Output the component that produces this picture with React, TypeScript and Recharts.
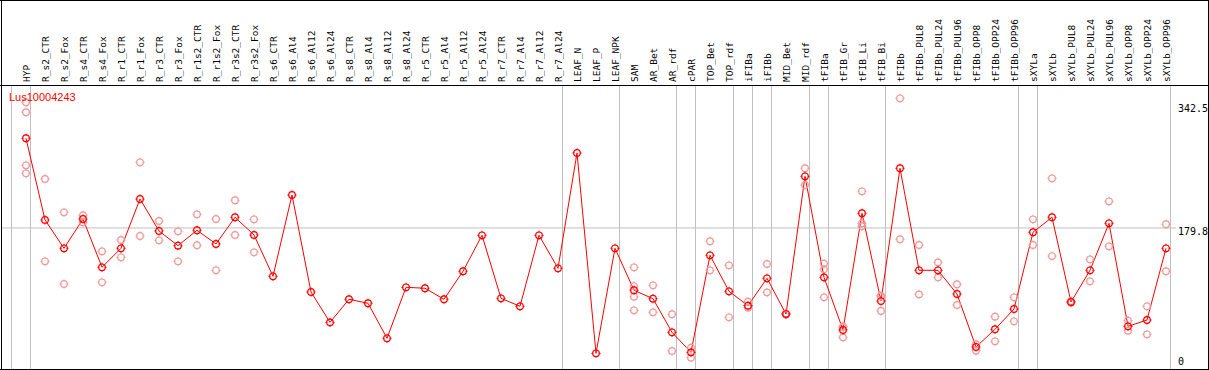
import React from "react";
import { ComposedChart, Line, Scatter, XAxis, YAxis, ReferenceLine } from "recharts";

const categories = [
  "HYP", "R_s2_CTR", "R_s2_Fox", "R_s4_CTR", "R_s4_Fox", "R_r1_CTR", "R_r1_Fox", "R_r3_CTR", "R_r3_Fox",
  "R_r1s2_CTR", "R_r1s2_Fox", "R_r3s2_CTR", "R_r3s2_Fox", "R_s6_CTR", "R_s6_Al4", "R_s6_Al12", "R_s6_Al24",
  "R_s8_CTR", "R_s8_Al4", "R_s8_Al12", "R_s8_Al24", "R_r5_CTR", "R_r5_Al4", "R_r5_Al12", "R_r5_Al24",
  "R_r7_CTR", "R_r7_Al4", "R_r7_Al12", "R_r7_Al24", "LEAF_N", "LEAF_P", "LEAF_NPK", "SAM", "AR_Bet", "AR_rdf",
  "cPAR", "TOP_Bet", "TOP_rdf", "iFIBa", "iFIBb", "MID_Bet", "MID_rdf", "tFIBa", "tFIB_Gr", "tFIB_Li", "tFIB_Bi",
  "tFIBb", "tFIBb_PUL8", "tFIBb_PUL24", "tFIBb_PUL96", "tFIBb_OPP8", "tFIBb_OPP24", "tFIBb_OPP96", "sXYLa",
  "sXYLb", "sXYLb_PUL8", "sXYLb_PUL24", "sXYLb_PUL96", "sXYLb_OPP8", "sXYLb_OPP24", "sXYLb_OPP96",
];

const meanValues = [
  292.2, 189.8, 154.3, 191.0, 130.5, 154.3, 216.1, 176.0, 157.6, 176.9, 159.7, 193.2, 171.0,
  119.2, 221.1, 99.5, 61.5, 90.4, 85.4, 41.5, 105.4, 104.2, 90.4, 125.5, 170.6, 91.6, 81.6, 170.6, 129.2,
  273.8, 22.7, 154.3, 101.7, 91.1, 49.0, 23.9, 145.5, 100.4, 82.4, 116.7, 71.9, 244.5, 117.9, 51.9, 198.2,
  88.2, 254.6, 126.7, 126.7, 97.0, 30.6, 52.8, 78.2, 174.4, 193.2, 87.0, 126.7, 185.6, 56.5, 64.4, 154.3,
];

const replicateValues: number[][] = [
  [337.3, 324.8, 258.3, 248.3],
  [241.2, 138.0],
  [199.4, 109.6],
  [195.7, 186.9],
  [150.5, 111.7],
  [164.7, 143.0],
  [262.1, 169.7],
  [188.5, 164.3],
  [175.6, 138.0],
  [196.9, 158.1],
  [191.0, 126.7],
  [214.5, 171.0],
  [190.6, 149.3],
  [], [], [], [], [], [], [], [], [], [], [], [], [], [], [], [], [], [], [],
  [130.5, 107.0, 93.6, 76.6],
  [107.9, 74.1],
  [71.6, 25.6],
  [29.7, 17.2],
  [163.1, 126.7],
  [133.0, 67.8],
  [87.4, 79.9],
  [134.6, 99.1],
  [72.6, 71.2],
  [254.6, 233.6],
  [135.0, 128.0, 92.9],
  [56.5, 55.5, 42.7],
  [225.7, 185.6, 181.9],
  [94.9, 94.0, 75.7],
  [342.3, 165.6],
  [158.4, 96.6],
  [136.7, 117.9],
  [109.2, 83.2],
  [34.0, 25.9],
  [68.6, 37.7],
  [92.9, 62.8],
  [190.6, 158.4],
  [242.0, 144.6],
  [88.0, 86.0],
  [140.5, 112.9],
  [213.2, 156.8],
  [63.6, 51.0],
  [81.6, 46.5],
  [184.4, 125.5],
];

const groupBoundaries = [-1, 0, 28, 31, 34, 35, 37, 38, 39, 41, 42, 45, 52, 53, 60];
const yTicks = [0, 179.8, 342.5];
const geneName = "Lus10004243";

const chartData = categories.map((name, i) => ({ idx: i, name, mean: meanValues[i] }));
const repData = replicateValues.flatMap((vals, i) => vals.map((v) => ({ idx: i, val: v })));

const Marker = (props: any) => {
  const { cx, cy, color } = props;
  if (cx == null || cy == null || isNaN(cx) || isNaN(cy)) return null;
  const r = 3.3;
  return (
    <g>
      <circle cx={cx} cy={cy} r={r} fill="none" stroke={color} strokeWidth={1.2} />
      <line x1={cx} y1={cy - r - 1.3} x2={cx} y2={cy - r + 0.6} stroke={color} strokeWidth={1} />
      <line x1={cx} y1={cy + r - 0.6} x2={cx} y2={cy + r + 1.3} stroke={color} strokeWidth={1} />
      <line x1={cx - r - 1.3} y1={cy} x2={cx - r + 0.6} y2={cy} stroke={color} strokeWidth={1} />
      <line x1={cx + r - 0.6} y1={cy} x2={cx + r + 1.3} y2={cy} stroke={color} strokeWidth={1} />
    </g>
  );
};

const CatTick = (props: any) => {
  const { x, payload } = props;
  const label = categories[payload.value];
  if (label == null) return null;
  return (
    <text
      transform={`translate(${x + 3.5},82) rotate(-90)`}
      fontSize={9.5}
      fontFamily="DejaVu Sans Mono"
      fill="#000"
      textAnchor="start"
    >
      {label}
    </text>
  );
};

const ValTick = (props: any) => {
  const { y, payload } = props;
  const yy = Math.max(112, Math.min(365, y + 7));
  return (
    <text x={1178} y={yy} fontSize={10} fontFamily="DejaVu Sans Mono" fill="#000" textAnchor="start">
      {String(payload.value)}
    </text>
  );
};

const pxPerUnit = 19;
const plotLeft = 2;
const plotRight = 1176;
const firstX = 26;
const xMin = (plotLeft - firstX) / pxPerUnit;
const xMax = xMin + (plotRight - plotLeft) / pxPerUnit;

export default function App() {
  return (
    <div style={{ position: "relative", width: 1209, height: 370, overflow: "hidden", background: "#fff" }}>
      <style>{`body{margin:0}`}</style>
      <ComposedChart
        width={1209}
        height={380}
        data={chartData}
        margin={{ top: 0, right: 0, bottom: 8.6, left: plotLeft }}
      >
        <XAxis
          xAxisId={0}
          dataKey="idx"
          type="number"
          orientation="top"
          height={86}
          domain={[xMin, xMax]}
          allowDataOverflow
          ticks={categories.map((_, i) => i)}
          interval={0}
          axisLine={false}
          tickLine={false}
          tick={<CatTick />}
        />
        <YAxis
          yAxisId={0}
          orientation="right"
          width={33}
          type="number"
          domain={[0, 357.7]}
          allowDataOverflow
          ticks={yTicks}
          interval={0}
          axisLine={false}
          tickLine={false}
          tick={<ValTick />}
        />
        {groupBoundaries.map((g) => (
          <ReferenceLine key={g} x={g + 4.5 / pxPerUnit} stroke="#c0c0c0" strokeWidth={1} ifOverflow="visible" />
        ))}
        <ReferenceLine y={179.8} stroke="#c0c0c0" strokeWidth={1} />
        <Scatter
          data={repData}
          dataKey="val"
          isAnimationActive={false}
          shape={(p: any) => <Marker cx={p.cx} cy={p.cy} color="#ee9a9a" />}
        />
        <Line
          dataKey="mean"
          type="linear"
          stroke="#ff0000"
          strokeWidth={1}
          isAnimationActive={false}
          dot={(p: any) => <Marker key={p.index} cx={p.cx} cy={p.cy} color="#ff0000" />}
          activeDot={false}
        />
      </ComposedChart>
      <svg
        width={1209}
        height={370}
        style={{ position: "absolute", left: 0, top: 0, pointerEvents: "none" }}
      >
        <line x1={1.5} y1={0} x2={1.5} y2={370} stroke="#000" strokeWidth={1} />
        <line x1={0} y1={0.5} x2={1209} y2={0.5} stroke="#000" strokeWidth={1} />
        <line x1={1208.5} y1={0} x2={1208.5} y2={370} stroke="#000" strokeWidth={1} />
        <line x1={0} y1={369.5} x2={1209} y2={369.5} stroke="#000" strokeWidth={1} />
        <line x1={0} y1={85.5} x2={1209} y2={85.5} stroke="#000" strokeWidth={1} />
        <text x={9} y={101} fontSize={11} fontFamily="Liberation Sans, Arial, sans-serif" fill="#ff0000">
          {geneName}
        </text>
      </svg>
    </div>
  );
}
